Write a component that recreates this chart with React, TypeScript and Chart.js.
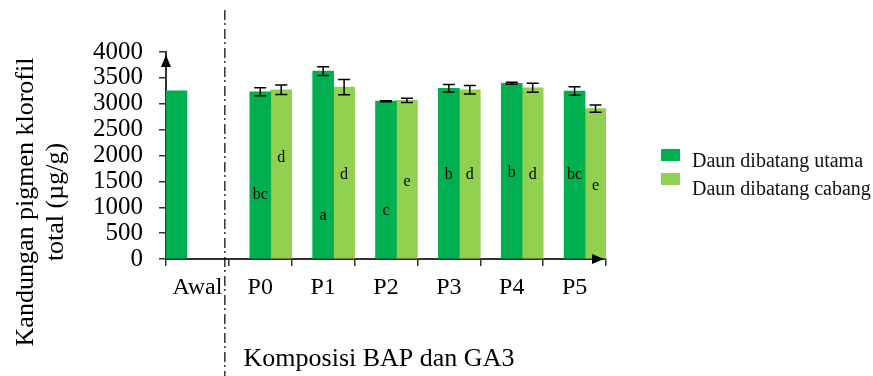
import React, { useEffect, useRef } from "react";
import { Chart, registerables } from "chart.js";

Chart.register(...registerables);

// ---------- data ----------
const categories = ["Awal", "P0", "P1", "P2", "P3", "P4", "P5"];
const awalValues = [3250, null, null, null, null, null, null];
const utamaValues = [null, 3230, 3630, 3050, 3300, 3395, 3245];
const cabangValues = [null, 3270, 3320, 3065, 3270, 3310, 2905];
const utamaErrors = [null, 77, 83, 10, 73, 20, 83];
const cabangErrors = [null, 90, 148, 42, 84, 87, 70];
const utamaLetters = [null, "bc", "a", "c", "b", "b", "bc"];
const cabangLetters = [null, "d", "d", "e", "d", "d", "e"];
const seriesLabels = ["Awal", "Daun dibatang utama", "Daun dibatang cabang"];
const yTitleLines = ["Kandungan pigmen klorofil", "total (µg/g)"];
const xTitle = "Komposisi BAP dan GA3";
const yMin = 0;
const yMax = 4000;
const yStep = 500;

// ---------- layout / style ----------
const SERIF = "'Liberation Serif', 'Times New Roman', serif";
const DARK = "#00B050";
const LIGHT = "#92D050";
const AXIS = "#333333";
// vertical placement (in data units) of the significance letters inside the bars
const utamaLetterLevels = [null, 1237, 831, 928, 1623, 1662, 1623];
const cabangLetterLevels = [null, 1952, 1623, 1494, 1623, 1623, 1416];

const overlayPlugin = {
  id: "overlay",
  afterDraw(chart: any) {
    const ctx = chart.ctx;
    const ys = chart.scales.y;
    const area = chart.chartArea;
    ctx.save();

    // error bars + letters
    const sets = [
      { idx: 1, err: utamaErrors, letters: utamaLetters, levels: utamaLetterLevels, vals: utamaValues },
      { idx: 2, err: cabangErrors, letters: cabangLetters, levels: cabangLetterLevels, vals: cabangValues },
    ];
    for (const s of sets) {
      const meta = chart.getDatasetMeta(s.idx);
      meta.data.forEach((bar: any, j: number) => {
        const v = s.vals[j];
        if (v == null) return;
        const e = s.err[j] as number;
        const x = bar.x;
        const yTop = ys.getPixelForValue(v + e);
        const yBot = ys.getPixelForValue(v - e);
        ctx.strokeStyle = "#000";
        ctx.lineWidth = 1.5;
        ctx.beginPath();
        ctx.moveTo(x, yTop);
        ctx.lineTo(x, yBot);
        ctx.moveTo(x - 6, yTop);
        ctx.lineTo(x + 6, yTop);
        ctx.moveTo(x - 6, yBot);
        ctx.lineTo(x + 6, yBot);
        ctx.stroke();
        const letter = s.letters[j];
        const lvl = s.levels[j];
        if (letter && lvl != null) {
          ctx.fillStyle = "#000";
          ctx.font = `16px ${SERIF}`;
          ctx.textAlign = "center";
          ctx.textBaseline = "middle";
          ctx.fillText(letter, x, ys.getPixelForValue(lvl));
        }
      });
    }

    // axis arrows
    ctx.fillStyle = "#000";
    ctx.beginPath();
    ctx.moveTo(area.left, area.top + 3);
    ctx.lineTo(area.left - 5, area.top + 15);
    ctx.lineTo(area.left + 5, area.top + 15);
    ctx.closePath();
    ctx.fill();
    ctx.beginPath();
    ctx.moveTo(area.right - 2, area.bottom);
    ctx.lineTo(area.right - 14, area.bottom - 5);
    ctx.lineTo(area.right - 14, area.bottom + 5);
    ctx.closePath();
    ctx.fill();

    // dash-dot separator
    const xs = chart.scales.x;
    const sepX = (xs.getPixelForValue(0) + xs.getPixelForValue(1)) / 2 - 4;
    ctx.strokeStyle = "#000";
    ctx.lineWidth = 1.2;
    ctx.setLineDash([10, 3, 2, 4]);
    ctx.beginPath();
    ctx.moveTo(sepX, 10);
    ctx.lineTo(sepX, chart.height);
    ctx.stroke();
    ctx.setLineDash([]);

    // y title
    ctx.fillStyle = "#000";
    ctx.font = `26px ${SERIF}`;
    ctx.textAlign = "center";
    ctx.textBaseline = "alphabetic";
    const yc = 202;
    [33, 63].forEach((bx, i) => {
      ctx.save();
      ctx.translate(bx, yc);
      ctx.rotate(-Math.PI / 2);
      ctx.fillText(yTitleLines[i], 0, 0);
      ctx.restore();
    });

    // x title
    ctx.font = `26px ${SERIF}`;
    ctx.textAlign = "center";
    ctx.fillText(xTitle, 379, 366);

    // legend
    ctx.font = `20px ${SERIF}`;
    ctx.textAlign = "left";
    [1, 2].forEach((di, i) => {
      const top = 149 + i * 24;
      ctx.fillStyle = chart.data.datasets[di].backgroundColor;
      ctx.fillRect(661, top, 19, 12);
      ctx.fillStyle = "#111";
      ctx.fillText(chart.data.datasets[di].label, 692, 167 + i * 28);
    });

    ctx.restore();
  },
};

export default function App() {
  const ref = useRef<HTMLCanvasElement | null>(null);
  useEffect(() => {
    if (!ref.current) return;
    const chart = new Chart(ref.current, {
      type: "bar",
      data: {
        labels: categories,
        datasets: [
          { label: seriesLabels[0], data: awalValues, backgroundColor: DARK },
          { label: seriesLabels[1], data: utamaValues, backgroundColor: DARK },
          { label: seriesLabels[2], data: cabangValues, backgroundColor: LIGHT },
        ],
      },
      options: {
        animation: false,
        responsive: true,
        maintainAspectRatio: false,
        datasets: { bar: { categoryPercentage: 1, barPercentage: 1 } },
        layout: { padding: { left: 0, top: 52, right: 267, bottom: 0 } },
        plugins: { legend: { display: false }, tooltip: { enabled: false } },
        scales: {
          x: {
            grid: { display: true, drawOnChartArea: false, tickLength: 7, color: AXIS, lineWidth: 1.5, offset: true },
            border: { display: true, color: AXIS, width: 2 },
            ticks: { font: { family: SERIF, size: 24 }, color: "#000", padding: 7, maxRotation: 0, autoSkip: false },
            afterFit: (s: any) => { s.height = 117; },
          },
          y: {
            min: yMin,
            max: yMax,
            grid: { display: true, drawOnChartArea: false, tickLength: 7, color: AXIS, lineWidth: 1.5 },
            border: { display: true, color: AXIS, width: 2 },
            ticks: {
              stepSize: yStep,
              autoSkip: false,
              font: { family: SERIF, size: 25, lineHeight: 1 },
              color: "#000",
              padding: 16,
              callback: (v: any) => String(v),
            },
            afterFit: (s: any) => { s.width = 166; },
          },
        },
      },
      plugins: [overlayPlugin],
    } as any);
    return () => chart.destroy();
  }, []);
  return (
    <div style={{ position: "fixed", left: 0, top: 0, width: 873, height: 376, background: "#fff" }}>
      <canvas ref={ref} />
    </div>
  );
}
